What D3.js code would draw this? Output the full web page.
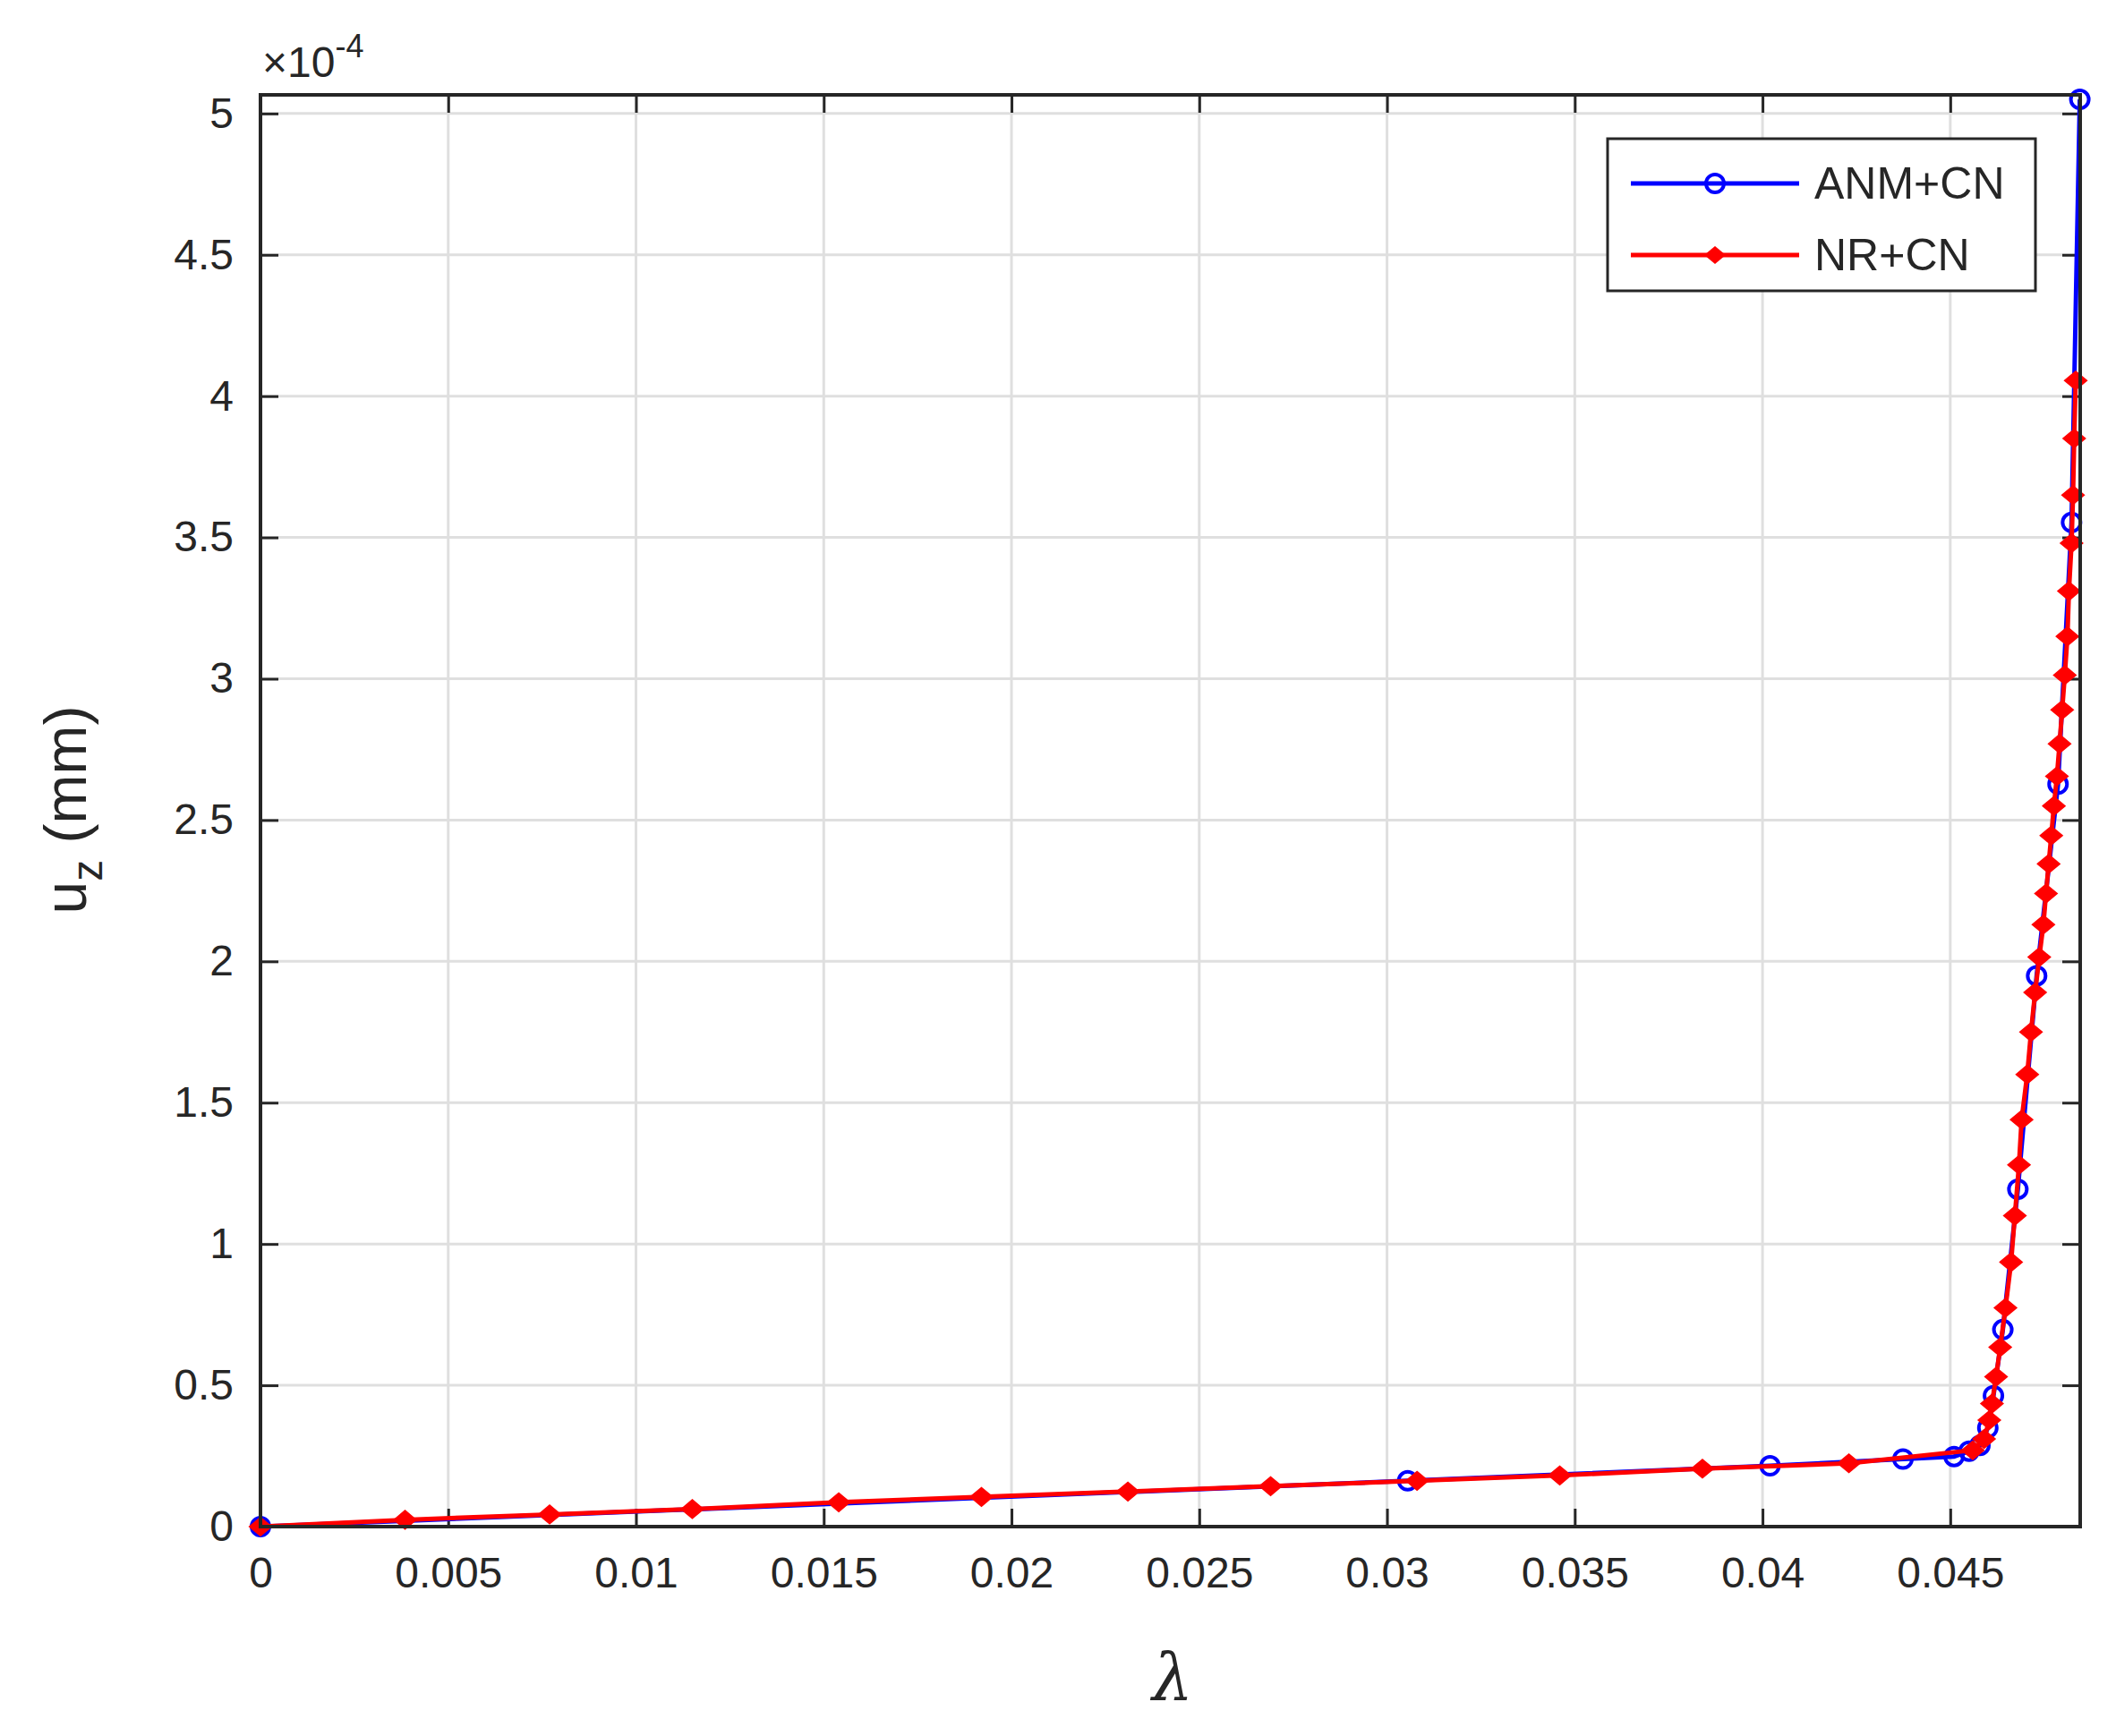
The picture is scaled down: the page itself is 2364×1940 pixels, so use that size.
<!DOCTYPE html>
<html>
<head>
<meta charset="utf-8">
<script src="https://cdn.jsdelivr.net/npm/d3@7"></script>
<style>
  body { margin: 0; background: #fff; }
  text { font-family: "Liberation Sans", Arial, sans-serif; fill: #262626; }
</style>
</head>
<body>
<svg id="chart" width="2364" height="1940"></svg>
<script>
// ANM+CN points (lambda, uz in 1e-4 mm)
let anmX = [0, 0.03055, 0.0402, 0.04374, 0.0451, 0.0455, 0.04579, 0.0460, 0.04615, 0.0464, 0.0468, 0.0473, 0.04787, 0.04823, 0.04845];
let anmY = [0, 0.162, 0.215, 0.239, 0.248, 0.267, 0.287, 0.349, 0.463, 0.697, 1.194, 1.949, 2.627, 3.553, 5.05];

// NR+CN points
let nrX = [0, 0.00385, 0.0077, 0.0115, 0.0154, 0.0192, 0.0231, 0.0269, 0.0308, 0.0346, 0.0384, 0.0423, 0.0456,
  0.04590, 0.04604, 0.04611, 0.04622, 0.04633, 0.04647, 0.04662, 0.04672, 0.04683, 0.04690, 0.04705, 0.04715,
  0.04726, 0.04737, 0.04748, 0.04755, 0.04762, 0.04769, 0.04776, 0.04784, 0.04791, 0.04798, 0.04805, 0.04812,
  0.04816, 0.04823, 0.04827, 0.04830, 0.04834];
let nrY = [0, 0.024, 0.043, 0.062, 0.086, 0.105, 0.124, 0.143, 0.162, 0.181, 0.205, 0.224, 0.27,
  0.31, 0.377, 0.435, 0.53, 0.635, 0.774, 0.936, 1.10, 1.28, 1.44, 1.60, 1.75,
  1.89, 2.015, 2.13, 2.24, 2.345, 2.445, 2.55, 2.655, 2.77, 2.89, 3.013, 3.15,
  3.31, 3.48, 3.65, 3.85, 4.055];

let xTicks = [0, 0.005, 0.01, 0.015, 0.02, 0.025, 0.03, 0.035, 0.04, 0.045];
let yTicks = [0, 0.5, 1, 1.5, 2, 2.5, 3, 3.5, 4, 4.5, 5];

let pLeft = 291, pRight = 2324, pTop = 106, pBottom = 1706;
let svg = d3.select("#chart");

let x = d3.scaleLinear().domain([0, 0.04846]).range([pLeft, pRight]);
let y = d3.scaleLinear().domain([0, 5.066]).range([pBottom, pTop]);

// grid
svg.append("g").selectAll("line").data(xTicks).join("line")
  .attr("x1", d => x(d)).attr("x2", d => x(d)).attr("y1", pTop).attr("y2", pBottom)
  .attr("stroke", "#dfdfdf").attr("stroke-width", 3);
svg.append("g").selectAll("line").data(yTicks).join("line")
  .attr("y1", d => y(d)).attr("y2", d => y(d)).attr("x1", pLeft).attr("x2", pRight)
  .attr("stroke", "#dfdfdf").attr("stroke-width", 3);

// axes (ticks inward on all sides)
let tl = 20;
let fmtX = d => d === 0 ? "0" : String(+d.toFixed(3));
svg.append("g").attr("transform", `translate(0,${pBottom})`)
  .call(d3.axisBottom(x).tickValues(xTicks).tickSizeInner(-tl).tickSizeOuter(0).tickPadding(34).tickFormat(fmtX));
svg.append("g").attr("transform", `translate(0,${pTop})`)
  .call(d3.axisTop(x).tickValues(xTicks).tickSizeInner(-tl).tickSizeOuter(0).tickFormat(""));
svg.append("g").attr("transform", `translate(${pLeft},0)`)
  .call(d3.axisLeft(y).tickValues(yTicks).tickSizeInner(-tl).tickSizeOuter(0).tickPadding(30).tickFormat(d => String(d)));
svg.append("g").attr("transform", `translate(${pRight},0)`)
  .call(d3.axisRight(y).tickValues(yTicks).tickSizeInner(-tl).tickSizeOuter(0).tickFormat(""));
svg.selectAll(".domain").remove();
svg.selectAll(".tick line").attr("stroke", "#262626").attr("stroke-width", 3);
svg.selectAll(".tick text").style("font-family", "Liberation Sans, Arial, sans-serif")
  .style("font-size", "48px").attr("fill", "#262626");

// series
let anm = anmX.map((d, i) => [d, anmY[i]]);
let nr = nrX.map((d, i) => [d, nrY[i]]);
let line = d3.line().x(d => x(d[0])).y(d => y(d[1]));

svg.append("path").datum(anm).attr("d", line).attr("fill", "none").attr("stroke", "#0000ff").attr("stroke-width", 5);
svg.append("g").selectAll("circle").data(anm).join("circle")
  .attr("cx", d => x(d[0])).attr("cy", d => y(d[1])).attr("r", 10)
  .attr("fill", "none").attr("stroke", "#0000ff").attr("stroke-width", 4);

let diamond = "M-12,0 L0,-10 L12,0 L0,10 Z";
svg.append("path").datum(nr).attr("d", line).attr("fill", "none").attr("stroke", "#ff0000").attr("stroke-width", 5);
svg.append("g").selectAll("path").data(nr).join("path")
  .attr("transform", d => `translate(${x(d[0])},${y(d[1])})`).attr("d", diamond)
  .attr("fill", "#ff0000").attr("stroke", "#ff0000").attr("stroke-width", 2);

svg.append("rect").attr("x", pLeft).attr("y", pTop).attr("width", pRight - pLeft).attr("height", pBottom - pTop)
  .attr("fill", "none").attr("stroke", "#262626").attr("stroke-width", 4);

// exponent
let ex = svg.append("text").attr("x", pLeft + 2).attr("y", 86).style("font-size", "48px");
ex.append("tspan").text("×10");
ex.append("tspan").attr("dy", -22).style("font-size", "36px").text("-4");

// labels
let yl = svg.append("text").attr("transform", `translate(96,905) rotate(-90)`)
  .attr("text-anchor", "middle").style("font-size", "66px");
yl.append("tspan").text("u");
yl.append("tspan").attr("dy", 18).style("font-size", "48px").text("z");
yl.append("tspan").attr("dy", -18).text(" (mm)");
svg.append("text").attr("x", 1310).attr("y", 1900).attr("text-anchor", "middle")
  .style("font-size", "72px").style("font-style", "italic").style("font-family", "DejaVu Serif, serif").text("λ");

// legend
let lg = svg.append("g");
lg.append("rect").attr("x", 1796).attr("y", 155).attr("width", 478).attr("height", 170)
  .attr("fill", "#fff").attr("stroke", "#262626").attr("stroke-width", 3);
let items = [["ANM+CN", "#0000ff", "c"], ["NR+CN", "#ff0000", "d"]];
items.forEach((it, i) => {
  let cy = 205 + i * 80;
  lg.append("line").attr("x1", 1822).attr("x2", 2010).attr("y1", cy).attr("y2", cy)
    .attr("stroke", it[1]).attr("stroke-width", 5);
  if (it[2] === "c") {
    lg.append("circle").attr("cx", 1916).attr("cy", cy).attr("r", 10)
      .attr("fill", "none").attr("stroke", it[1]).attr("stroke-width", 4);
  } else {
    lg.append("path").attr("transform", `translate(1916,${cy})`).attr("d", diamond).attr("fill", it[1]);
  }
  lg.append("text").attr("x", 2027).attr("y", cy + 17).style("font-size", "50px").attr("fill", "#000").text(it[0]);
});
</script>
</body>
</html>
